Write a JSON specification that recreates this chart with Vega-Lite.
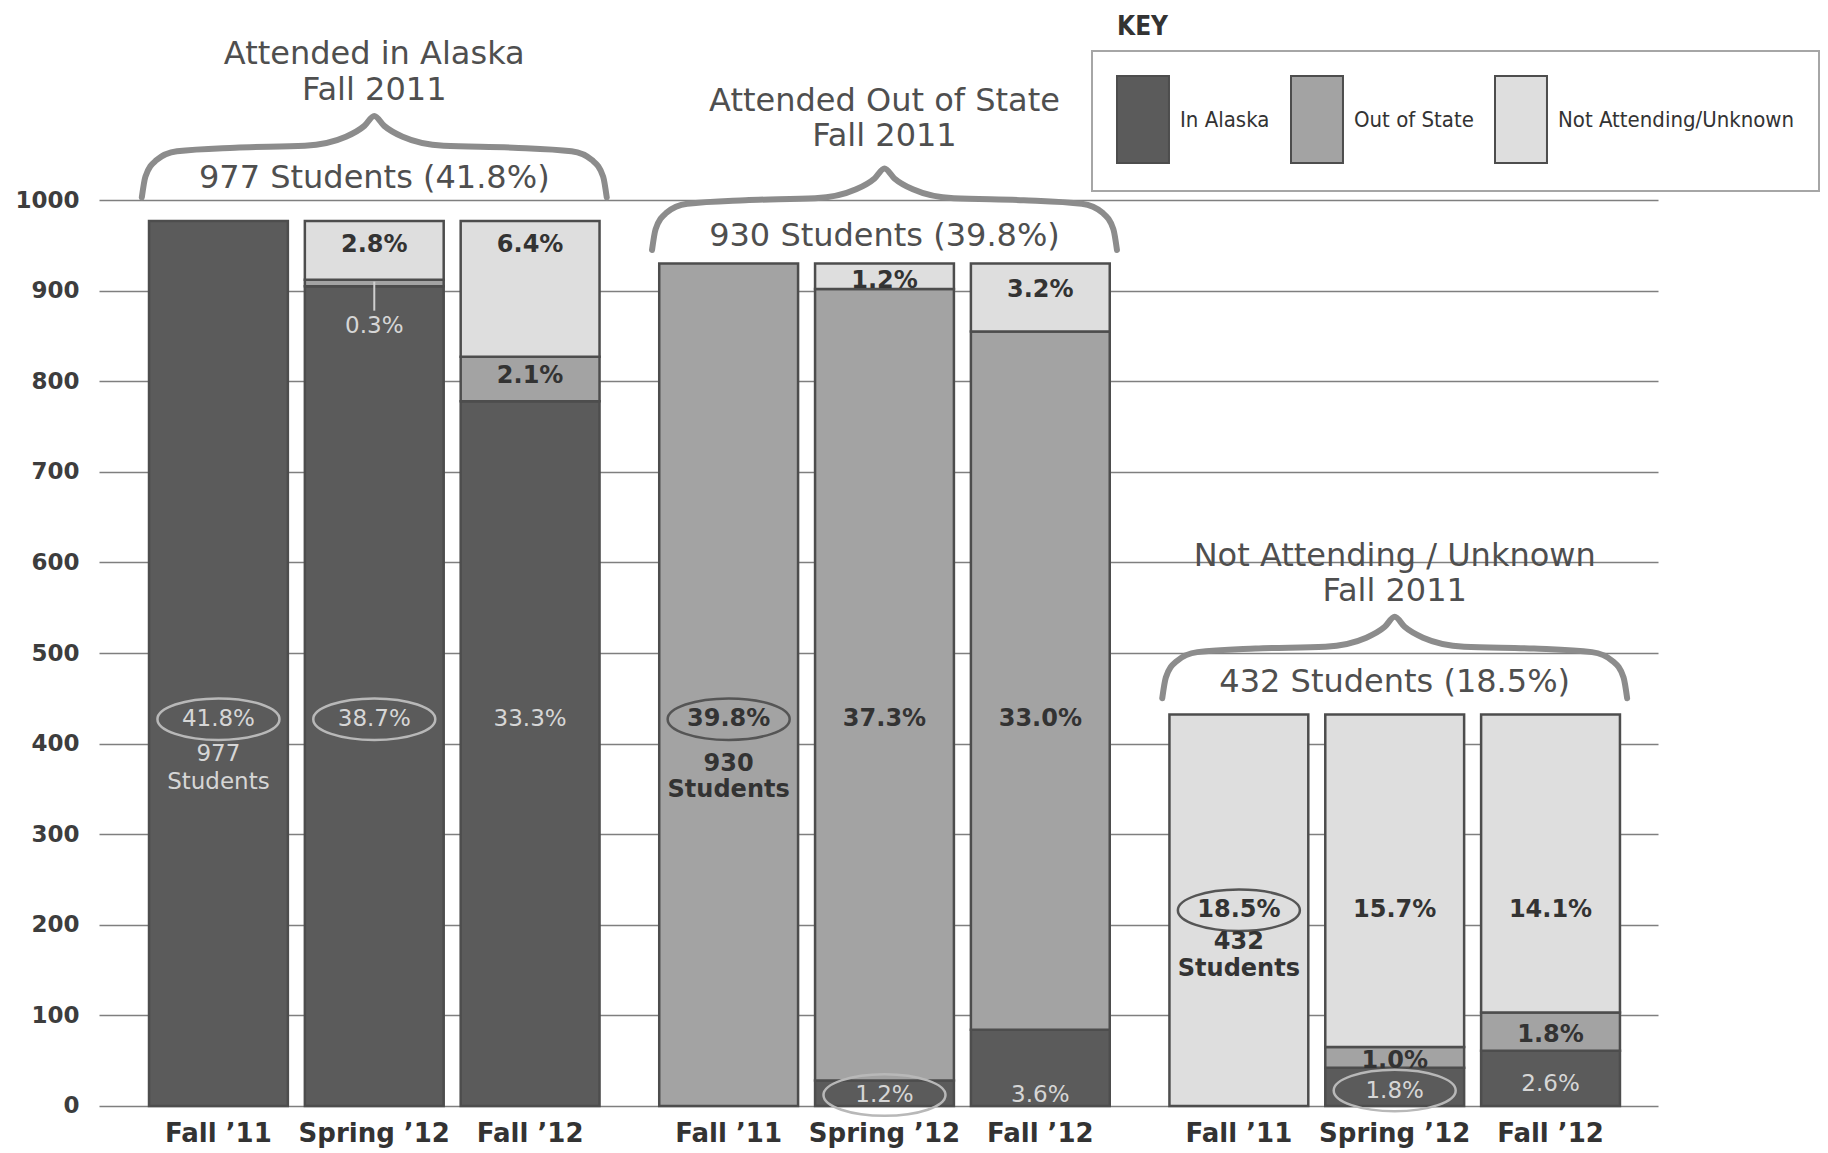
{
  "$schema": "https://vega.github.io/schema/vega-lite/v6.json",
  "width": 1559,
  "height": 1153,
  "autosize": {"type": "none"},
  "padding": {"left": 99, "top": 0, "right": 170, "bottom": 0},
  "background": "white",
  "title": {
    "text": "KEY",
    "anchor": "start",
    "frame": "group",
    "orient": "top",
    "offset": 0,
    "dx": 1018,
    "dy": 40,
    "font": "DejaVu Sans Condensed, sans-serif",
    "fontSize": 26,
    "fontWeight": "bold",
    "color": "#333333"
  },
  "config": {
    "view": {"stroke": null},
    "legend": {"strokeWidth": 2},
    "axisY": {
      "title": null,
      "grid": true,
      "domain": false,
      "ticks": false,
      "format": "d",
      "labelPadding": 20,
      "labelFont": "DejaVu Sans",
      "labelFontSize": 23,
      "labelFontWeight": "bold",
      "labelColor": "#3d3d3d",
      "gridColor": "#7f7f7f",
      "gridWidth": 1.5
    }
  },
  "datasets": {
    "bars": [
      {"cohort": "Attended in Alaska", "term": "Fall ’11", "category": "In Alaska", "value": 977},
      {"cohort": "Attended in Alaska", "term": "Spring ’12", "category": "In Alaska", "value": 905},
      {"cohort": "Attended in Alaska", "term": "Spring ’12", "category": "Out of State", "value": 7},
      {"cohort": "Attended in Alaska", "term": "Spring ’12", "category": "Not Attending/Unknown", "value": 65},
      {"cohort": "Attended in Alaska", "term": "Fall ’12", "category": "In Alaska", "value": 778},
      {"cohort": "Attended in Alaska", "term": "Fall ’12", "category": "Out of State", "value": 49},
      {"cohort": "Attended in Alaska", "term": "Fall ’12", "category": "Not Attending/Unknown", "value": 150},
      {"cohort": "Attended Out of State", "term": "Fall ’11", "category": "Out of State", "value": 930},
      {"cohort": "Attended Out of State", "term": "Spring ’12", "category": "In Alaska", "value": 28},
      {"cohort": "Attended Out of State", "term": "Spring ’12", "category": "Out of State", "value": 874},
      {"cohort": "Attended Out of State", "term": "Spring ’12", "category": "Not Attending/Unknown", "value": 28},
      {"cohort": "Attended Out of State", "term": "Fall ’12", "category": "In Alaska", "value": 84},
      {"cohort": "Attended Out of State", "term": "Fall ’12", "category": "Out of State", "value": 771},
      {"cohort": "Attended Out of State", "term": "Fall ’12", "category": "Not Attending/Unknown", "value": 75},
      {"cohort": "Not Attending / Unknown", "term": "Fall ’11", "category": "Not Attending/Unknown", "value": 432},
      {"cohort": "Not Attending / Unknown", "term": "Spring ’12", "category": "In Alaska", "value": 42},
      {"cohort": "Not Attending / Unknown", "term": "Spring ’12", "category": "Out of State", "value": 23},
      {"cohort": "Not Attending / Unknown", "term": "Spring ’12", "category": "Not Attending/Unknown", "value": 367},
      {"cohort": "Not Attending / Unknown", "term": "Fall ’12", "category": "In Alaska", "value": 61},
      {"cohort": "Not Attending / Unknown", "term": "Fall ’12", "category": "Out of State", "value": 42},
      {"cohort": "Not Attending / Unknown", "term": "Fall ’12", "category": "Not Attending/Unknown", "value": 329}
    ],
    "labels": [
      {"cohort": "Attended in Alaska", "term": "Fall ’11", "over": "In Alaska", "label": "41.8%", "pos": 427, "circled": true},
      {"cohort": "Attended in Alaska", "term": "Fall ’11", "over": "In Alaska", "label": "977", "pos": 388, "circled": false},
      {"cohort": "Attended in Alaska", "term": "Fall ’11", "over": "In Alaska", "label": "Students", "pos": 358, "circled": false},
      {"cohort": "Attended in Alaska", "term": "Spring ’12", "over": "Not Attending/Unknown", "label": "2.8%", "pos": 950, "circled": false},
      {"cohort": "Attended in Alaska", "term": "Spring ’12", "over": "In Alaska", "label": "0.3%", "pos": 861, "circled": false},
      {"cohort": "Attended in Alaska", "term": "Spring ’12", "over": "In Alaska", "label": "38.7%", "pos": 427, "circled": true},
      {"cohort": "Attended in Alaska", "term": "Fall ’12", "over": "Not Attending/Unknown", "label": "6.4%", "pos": 951, "circled": false},
      {"cohort": "Attended in Alaska", "term": "Fall ’12", "over": "Out of State", "label": "2.1%", "pos": 806, "circled": false},
      {"cohort": "Attended in Alaska", "term": "Fall ’12", "over": "In Alaska", "label": "33.3%", "pos": 427, "circled": false},
      {"cohort": "Attended Out of State", "term": "Fall ’11", "over": "Out of State", "label": "39.8%", "pos": 427, "circled": true},
      {"cohort": "Attended Out of State", "term": "Fall ’11", "over": "Out of State", "label": "930", "pos": 378, "circled": false},
      {"cohort": "Attended Out of State", "term": "Fall ’11", "over": "Out of State", "label": "Students", "pos": 349, "circled": false},
      {"cohort": "Attended Out of State", "term": "Spring ’12", "over": "Not Attending/Unknown", "label": "1.2%", "pos": 911, "circled": false},
      {"cohort": "Attended Out of State", "term": "Spring ’12", "over": "Out of State", "label": "37.3%", "pos": 427, "circled": false},
      {"cohort": "Attended Out of State", "term": "Spring ’12", "over": "In Alaska", "label": "1.2%", "pos": 12, "circled": true},
      {"cohort": "Attended Out of State", "term": "Fall ’12", "over": "Not Attending/Unknown", "label": "3.2%", "pos": 901, "circled": false},
      {"cohort": "Attended Out of State", "term": "Fall ’12", "over": "Out of State", "label": "33.0%", "pos": 427, "circled": false},
      {"cohort": "Attended Out of State", "term": "Fall ’12", "over": "In Alaska", "label": "3.6%", "pos": 12, "circled": false},
      {"cohort": "Not Attending / Unknown", "term": "Fall ’11", "over": "Not Attending/Unknown", "label": "18.5%", "pos": 216, "circled": true},
      {"cohort": "Not Attending / Unknown", "term": "Fall ’11", "over": "Not Attending/Unknown", "label": "432", "pos": 181, "circled": false},
      {"cohort": "Not Attending / Unknown", "term": "Fall ’11", "over": "Not Attending/Unknown", "label": "Students", "pos": 151, "circled": false},
      {"cohort": "Not Attending / Unknown", "term": "Spring ’12", "over": "Not Attending/Unknown", "label": "15.7%", "pos": 216, "circled": false},
      {"cohort": "Not Attending / Unknown", "term": "Spring ’12", "over": "Out of State", "label": "1.0%", "pos": 50, "circled": false},
      {"cohort": "Not Attending / Unknown", "term": "Spring ’12", "over": "In Alaska", "label": "1.8%", "pos": 17, "circled": true},
      {"cohort": "Not Attending / Unknown", "term": "Fall ’12", "over": "Not Attending/Unknown", "label": "14.1%", "pos": 216, "circled": false},
      {"cohort": "Not Attending / Unknown", "term": "Fall ’12", "over": "Out of State", "label": "1.8%", "pos": 78, "circled": false},
      {"cohort": "Not Attending / Unknown", "term": "Fall ’12", "over": "In Alaska", "label": "2.6%", "pos": 24, "circled": false}
    ],
    "leader": [
      {"cohort": "Attended in Alaska", "term": "Spring ’12", "from": 910, "to": 878}
    ],
    "terms": [
      {"cohort": "Attended in Alaska", "term": "Fall ’11"},
      {"cohort": "Attended in Alaska", "term": "Spring ’12"},
      {"cohort": "Attended in Alaska", "term": "Fall ’12"},
      {"cohort": "Attended Out of State", "term": "Fall ’11"},
      {"cohort": "Attended Out of State", "term": "Spring ’12"},
      {"cohort": "Attended Out of State", "term": "Fall ’12"},
      {"cohort": "Not Attending / Unknown", "term": "Fall ’11"},
      {"cohort": "Not Attending / Unknown", "term": "Spring ’12"},
      {"cohort": "Not Attending / Unknown", "term": "Fall ’12"}
    ],
    "titles": [
      {"cohort": "Attended in Alaska", "label": "Attended in Alaska", "pos": 1161},
      {"cohort": "Attended in Alaska", "label": "Fall 2011", "pos": 1122},
      {"cohort": "Attended in Alaska", "label": "977 Students (41.8%)", "pos": 1024},
      {"cohort": "Attended Out of State", "label": "Attended Out of State", "pos": 1109},
      {"cohort": "Attended Out of State", "label": "Fall 2011", "pos": 1071},
      {"cohort": "Attended Out of State", "label": "930 Students (39.8%)", "pos": 960},
      {"cohort": "Not Attending / Unknown", "label": "Not Attending / Unknown", "pos": 607},
      {"cohort": "Not Attending / Unknown", "label": "Fall 2011", "pos": 569},
      {"cohort": "Not Attending / Unknown", "label": "432 Students (18.5%)", "pos": 468}
    ],
    "braces": [
      {"cohort": "Attended in Alaska", "frac": -0.016, "pos": 1003},
      {"cohort": "Attended in Alaska", "frac": -0.008, "pos": 1026},
      {"cohort": "Attended in Alaska", "frac": 0.016, "pos": 1044},
      {"cohort": "Attended in Alaska", "frac": 0.062, "pos": 1054},
      {"cohort": "Attended in Alaska", "frac": 0.191, "pos": 1058},
      {"cohort": "Attended in Alaska", "frac": 0.346, "pos": 1060},
      {"cohort": "Attended in Alaska", "frac": 0.437, "pos": 1070},
      {"cohort": "Attended in Alaska", "frac": 0.478, "pos": 1082},
      {"cohort": "Attended in Alaska", "frac": 0.5, "pos": 1093},
      {"cohort": "Attended in Alaska", "frac": 0.522, "pos": 1082},
      {"cohort": "Attended in Alaska", "frac": 0.563, "pos": 1070},
      {"cohort": "Attended in Alaska", "frac": 0.654, "pos": 1060},
      {"cohort": "Attended in Alaska", "frac": 0.809, "pos": 1058},
      {"cohort": "Attended in Alaska", "frac": 0.938, "pos": 1054},
      {"cohort": "Attended in Alaska", "frac": 0.984, "pos": 1044},
      {"cohort": "Attended in Alaska", "frac": 1.008, "pos": 1026},
      {"cohort": "Attended in Alaska", "frac": 1.016, "pos": 1003},
      {"cohort": "Attended Out of State", "frac": -0.016, "pos": 945},
      {"cohort": "Attended Out of State", "frac": -0.008, "pos": 968},
      {"cohort": "Attended Out of State", "frac": 0.016, "pos": 986},
      {"cohort": "Attended Out of State", "frac": 0.062, "pos": 996},
      {"cohort": "Attended Out of State", "frac": 0.191, "pos": 1000},
      {"cohort": "Attended Out of State", "frac": 0.346, "pos": 1002},
      {"cohort": "Attended Out of State", "frac": 0.437, "pos": 1012},
      {"cohort": "Attended Out of State", "frac": 0.478, "pos": 1024},
      {"cohort": "Attended Out of State", "frac": 0.5, "pos": 1035},
      {"cohort": "Attended Out of State", "frac": 0.522, "pos": 1024},
      {"cohort": "Attended Out of State", "frac": 0.563, "pos": 1012},
      {"cohort": "Attended Out of State", "frac": 0.654, "pos": 1002},
      {"cohort": "Attended Out of State", "frac": 0.809, "pos": 1000},
      {"cohort": "Attended Out of State", "frac": 0.938, "pos": 996},
      {"cohort": "Attended Out of State", "frac": 0.984, "pos": 986},
      {"cohort": "Attended Out of State", "frac": 1.008, "pos": 968},
      {"cohort": "Attended Out of State", "frac": 1.016, "pos": 945},
      {"cohort": "Not Attending / Unknown", "frac": -0.016, "pos": 450},
      {"cohort": "Not Attending / Unknown", "frac": -0.008, "pos": 473},
      {"cohort": "Not Attending / Unknown", "frac": 0.016, "pos": 491},
      {"cohort": "Not Attending / Unknown", "frac": 0.062, "pos": 501},
      {"cohort": "Not Attending / Unknown", "frac": 0.191, "pos": 505},
      {"cohort": "Not Attending / Unknown", "frac": 0.346, "pos": 507},
      {"cohort": "Not Attending / Unknown", "frac": 0.437, "pos": 517},
      {"cohort": "Not Attending / Unknown", "frac": 0.478, "pos": 529},
      {"cohort": "Not Attending / Unknown", "frac": 0.5, "pos": 540},
      {"cohort": "Not Attending / Unknown", "frac": 0.522, "pos": 529},
      {"cohort": "Not Attending / Unknown", "frac": 0.563, "pos": 517},
      {"cohort": "Not Attending / Unknown", "frac": 0.654, "pos": 507},
      {"cohort": "Not Attending / Unknown", "frac": 0.809, "pos": 505},
      {"cohort": "Not Attending / Unknown", "frac": 0.938, "pos": 501},
      {"cohort": "Not Attending / Unknown", "frac": 0.984, "pos": 491},
      {"cohort": "Not Attending / Unknown", "frac": 1.008, "pos": 473},
      {"cohort": "Not Attending / Unknown", "frac": 1.016, "pos": 450}
    ]
  },
  "resolve": {"scale": {"xOffset": "independent"}},
  "encoding": {
    "x": {
      "field": "cohort",
      "type": "nominal",
      "axis": null,
      "scale": {
        "domain": ["Attended in Alaska", "Attended Out of State", "Not Attending / Unknown"],
        "paddingInner": 0.117,
        "paddingOuter": 0.0863,
        "align": 0.568
      }
    }
  },
  "layer": [
    {
      "data": {"name": "bars"},
      "transform": [
        {"calculate": "indexof(['In Alaska','Out of State','Not Attending/Unknown'], datum.category)", "as": "rank"}
      ],
      "mark": {"type": "bar", "stroke": "#4d4d4d", "strokeWidth": 2.5},
      "encoding": {
        "xOffset": {
          "field": "term",
          "type": "nominal",
          "scale": {"type": "band", "domain": ["Fall ’11", "Spring ’12", "Fall ’12"], "paddingInner": 0.109, "paddingOuter": 0}
        },
        "y": {
          "field": "value",
          "type": "quantitative",
          "stack": "zero",
          "title": null,
          "scale": {"domain": [-52, 1221], "zero": false, "nice": false},
          "axis": {"values": [0, 100, 200, 300, 400, 500, 600, 700, 800, 900, 1000]}
        },
        "order": {"field": "rank", "type": "quantitative"},
        "color": {
          "field": "category",
          "type": "nominal",
          "sort": ["In Alaska", "Out of State", "Not Attending/Unknown"],
          "scale": {
            "domain": ["In Alaska", "Out of State", "Not Attending/Unknown"],
            "range": ["#5b5b5b", "#a3a3a3", "#dedede"]
          },
          "legend": {
            "orient": "none",
            "legendX": 993,
            "legendY": 51,
            "direction": "horizontal",
            "title": null,
            "symbolType": "M-1,-1H0.195V1H-1Z",
            "symbolSize": 7569,
            "symbolStrokeColor": "#4d4d4d",
            "symbolStrokeWidth": 2,
            "symbolOpacity": 1,
            "labelFont": "DejaVu Sans Condensed, sans-serif",
            "labelFontSize": 22,
            "labelColor": "#333333",
            "labelOffset": -25,
            "labelLimit": 400,
            "columnPadding": 17,
            "padding": 24,
            "strokeColor": "#a6a6a6",
            "fillColor": "white"
          }
        }
      }
    },
    {
      "data": {"name": "leader"},
      "mark": {"type": "rule", "color": "#cfcfcf", "strokeWidth": 2},
      "encoding": {
        "xOffset": {
          "field": "term",
          "type": "nominal",
          "scale": {"type": "band", "domain": ["Fall ’11", "Spring ’12", "Fall ’12"], "paddingInner": 0.109, "paddingOuter": 0}
        },
        "y": {"field": "from", "type": "quantitative", "title": null, "axis": {"values": [0, 100, 200, 300, 400, 500, 600, 700, 800, 900, 1000]}},
        "y2": {"field": "to"}
      }
    },
    {
      "data": {"name": "labels"},
      "transform": [{"filter": "datum.circled"}],
      "mark": {
        "type": "point",
        "shape": "M-1,0C-1,-0.1878,-0.5523,-0.34,0,-0.34C0.5523,-0.34,1,-0.1878,1,0C1,0.1878,0.5523,0.34,0,0.34C-0.5523,0.34,-1,0.1878,-1,0Z",
        "size": 14884,
        "filled": false,
        "opacity": 1,
        "strokeWidth": 2.5
      },
      "encoding": {
        "xOffset": {
          "field": "term",
          "type": "nominal",
          "scale": {"type": "band", "domain": ["Fall ’11", "Spring ’12", "Fall ’12"], "paddingInner": 0.109, "paddingOuter": 0}
        },
        "y": {"field": "pos", "type": "quantitative", "title": null, "axis": {"values": [0, 100, 200, 300, 400, 500, 600, 700, 800, 900, 1000]}},
        "stroke": {"condition": {"test": "datum.over === 'In Alaska'", "value": "#b8b8b8"}, "value": "#555555"}
      }
    },
    {
      "data": {"name": "labels"},
      "transform": [{"filter": "datum.over !== 'In Alaska'"}],
      "mark": {"type": "text", "font": "DejaVu Sans", "fontSize": 24, "fontWeight": "bold", "color": "#333333", "baseline": "middle", "align": "center"},
      "encoding": {
        "xOffset": {
          "field": "term",
          "type": "nominal",
          "scale": {"type": "band", "domain": ["Fall ’11", "Spring ’12", "Fall ’12"], "paddingInner": 0.109, "paddingOuter": 0}
        },
        "y": {"field": "pos", "type": "quantitative", "title": null, "axis": {"values": [0, 100, 200, 300, 400, 500, 600, 700, 800, 900, 1000]}},
        "text": {"field": "label"}
      }
    },
    {
      "data": {"name": "labels"},
      "transform": [{"filter": "datum.over === 'In Alaska'"}],
      "mark": {"type": "text", "font": "DejaVu Sans", "fontSize": 23, "fontWeight": "normal", "color": "#d6d6d6", "baseline": "middle", "align": "center"},
      "encoding": {
        "xOffset": {
          "field": "term",
          "type": "nominal",
          "scale": {"type": "band", "domain": ["Fall ’11", "Spring ’12", "Fall ’12"], "paddingInner": 0.109, "paddingOuter": 0}
        },
        "y": {"field": "pos", "type": "quantitative", "title": null, "axis": {"values": [0, 100, 200, 300, 400, 500, 600, 700, 800, 900, 1000]}},
        "text": {"field": "label"}
      }
    },
    {
      "data": {"name": "terms"},
      "mark": {"type": "text", "font": "DejaVu Sans", "fontSize": 26, "fontWeight": "bold", "color": "#333333", "baseline": "middle", "align": "center"},
      "encoding": {
        "xOffset": {
          "field": "term",
          "type": "nominal",
          "scale": {"type": "band", "domain": ["Fall ’11", "Spring ’12", "Fall ’12"], "paddingInner": 0.109, "paddingOuter": 0}
        },
        "y": {"datum": -31, "type": "quantitative", "title": null, "axis": {"values": [0, 100, 200, 300, 400, 500, 600, 700, 800, 900, 1000]}},
        "text": {"field": "term"}
      }
    },
    {
      "data": {"name": "braces"},
      "mark": {"type": "line", "interpolate": "monotone", "color": "#8c8c8c", "strokeWidth": 6, "strokeCap": "round"},
      "encoding": {
        "xOffset": {
          "field": "frac",
          "type": "quantitative",
          "scale": {"domain": [0, 1], "zero": false, "nice": false}
        },
        "y": {"field": "pos", "type": "quantitative", "title": null, "axis": {"values": [0, 100, 200, 300, 400, 500, 600, 700, 800, 900, 1000]}},
        "detail": {"field": "cohort"},
        "order": {"field": "frac", "type": "quantitative"}
      }
    },
    {
      "data": {"name": "titles"},
      "mark": {"type": "text", "font": "DejaVu Sans", "fontSize": 32, "color": "#4f4f4f", "baseline": "middle", "align": "center"},
      "encoding": {
        "y": {"field": "pos", "type": "quantitative", "title": null, "axis": {"values": [0, 100, 200, 300, 400, 500, 600, 700, 800, 900, 1000]}},
        "text": {"field": "label"}
      }
    }
  ]
}
